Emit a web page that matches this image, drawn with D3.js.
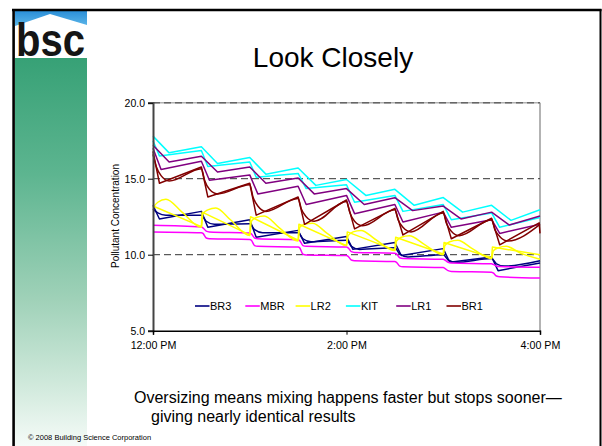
<!DOCTYPE html>
<html lang="en">
<head>
<meta charset="utf-8">
<title>Look Closely</title>
<script src="https://cdn.jsdelivr.net/npm/d3@7"></script>
<style>
  body { margin: 0; background: #fff; }
  svg text { font-family: "Liberation Sans", Arial, sans-serif; }
</style>
</head>
<body>
<script>

// series data: [minutes after 12:00 PM, concentration]
var br3a = [[0,13.25],[4,12.35],[30,12.85],[34,11.8],[60,12.3],[64,11.15],[90,11.6],[94,10.75],[120,11.2],[124,10.35],[150,10.8],[154,9.95],[180,10.4],[184,9.5],[210,9.85],[214,8.95],[240,9.45]];
var br3b = [[0,13.0],[3,12.75],[8,12.6],[30,12.6],[33,12.2],[38,12.0],[60,12.04],[63,11.65],[68,11.45],[90,11.45],[93,11.05],[98,10.85],[120,10.95],[123,10.55],[128,10.35],[150,10.45],[153,10.05],[158,9.85],[180,10.0],[183,9.65],[188,9.5],[210,9.75],[213,9.4],[218,9.25],[240,9.6]];

var mbra = [[0,11.93],[30,11.82],[31,11.77],[33,11.55],[35,11.5],[60,11.42],[61,11.37],[63,11.1],[65,11.05],[90,10.98],[91,10.93],[93,10.6],[95,10.55],[120,10.5],[121,10.45],[123,10.2],[125,10.15],[150,10.1],[151,10.05],[153,9.8],[155,9.75],[180,9.7],[181,9.65],[183,9.5],[185,9.45],[210,9.4],[211,9.36],[213,9.26],[215,9.22],[240,9.17]];
var mbrb = [[0,11.5],[30,11.45],[31,11.4],[33,11.1],[35,11.05],[60,11.0],[61,10.95],[63,10.6],[65,10.55],[90,10.5],[91,10.45],[93,10.03],[95,9.98],[120,9.94],[121,9.89],[123,9.65],[125,9.6],[150,9.55],[151,9.5],[153,9.25],[155,9.2],[180,9.15],[181,9.1],[183,8.95],[185,8.9],[210,8.85],[211,8.8],[213,8.6],[215,8.55],[240,8.47]];

var lr2a = [[0,13.1],[3,13.45],[8,13.65],[18,12.8],[30,11.8],[31,12.7],[34,12.95],[39,13.08],[48,12.3],[60,11.26],[61,12.2],[64,12.45],[69,12.55],[78,11.8],[90,10.9],[91,11.8],[94,12.0],[99,12.07],[108,11.4],[120,10.6],[121,11.25],[124,11.5],[129,11.6],[138,11.0],[150,10.27],[151,10.9],[154,11.15],[159,11.25],[168,10.7],[180,10.0],[181,10.6],[184,10.85],[189,10.95],[198,10.4],[210,9.75],[211,10.25],[214,10.45],[219,10.55],[228,10.1],[240,9.7]];
var lr2b = [[0,13.2],[30,11.85],[30.5,12.8],[60,11.3],[60.5,12.5],[90,10.95],[90.5,12.0],[120,10.6],[120.5,11.5],[150,10.3],[150.5,11.15],[180,10.05],[180.5,10.8],[210,9.8],[210.5,10.5],[240,10.0]];

var kita = [[0,17.8],[10,16.7],[30,17.1],[40,16.0],[60,16.4],[70,15.3],[90,15.7],[101,14.56],[120,14.95],[132,13.9],[150,14.3],[162,13.25],[180,13.76],[192,12.8],[210,13.25],[222,12.26],[240,12.96]];
var kitb = [[0,17.5],[4,16.5],[30,16.85],[34,15.8],[60,16.1],[64,15.1],[90,15.35],[95,14.35],[120,14.6],[125,13.45],[150,13.9],[155,12.85],[180,13.3],[185,12.3],[210,12.75],[215,11.8],[240,12.45]];

var lr1a = [[0,17.2],[10,16.1],[30,16.48],[40,15.44],[60,15.77],[70,14.7],[90,15.05],[100,14.0],[120,14.35],[131,13.3],[150,13.75],[161,12.9],[180,13.2],[191,12.35],[210,12.8],[221,11.95],[240,12.55]];
var lr1b = [[0,17.0],[5,15.6],[30,16.15],[35,14.9],[60,15.25],[65,14.0],[90,14.5],[95,13.3],[120,13.9],[125,12.7],[150,13.3],[155,12.15],[180,12.8],[185,11.8],[210,12.3],[215,11.4],[240,12.0]];

var br1a = [[0,16.8],[4,14.7],[30,15.77],[34,13.8],[60,14.7],[64,12.6],[90,13.8],[94,12.0],[120,13.6],[125,11.7],[150,13.05],[155,11.3],[180,12.85],[185,11.05],[210,12.4],[215,10.65],[239.5,12.1],[240,11.4]];
var br1b = [[0,16.6],[2,15.8],[5,15.2],[10,14.85],[30,15.66],[32,14.9],[35,14.3],[40,14.0],[60,14.6],[62,13.8],[65,13.2],[70,12.85],[90,13.7],[92,13.0],[95,12.5],[100,12.2],[120,13.5],[122,12.8],[125,12.2],[130,11.9],[150,12.95],[152,12.3],[155,11.8],[160,11.5],[180,12.75],[182,12.05],[185,11.55],[190,11.25],[210,12.3],[212,11.65],[215,11.2],[220,10.9],[240,12.0]];

var names = ["BR3", "MBR", "LR2", "KIT", "LR1", "BR1"];
var colors = ["#000080", "#ff00ff", "#ffff00", "#00ffff", "#800080", "#800000"];
var yTicks = [5, 10, 15, 20];
var xTicks = [0, 120, 240];

var series = [
  { name: "BR3", lines: [br3a, br3b], smooth: [false, true] },
  { name: "MBR", lines: [mbra, mbrb], smooth: [true, true] },
  { name: "LR2", lines: [lr2a, lr2b], smooth: [true, false] },
  { name: "KIT", lines: [kita, kitb], smooth: [false, false] },
  { name: "LR1", lines: [lr1a, lr1b], smooth: [false, false] },
  { name: "BR1", lines: [br1a, br1b], smooth: [false, true] }
];

var w = 602, h = 446;
var noon = new Date(2008, 0, 1, 12, 0);
function toDate(m) { return new Date(noon.getTime() + m * 60000); }

var svg = d3.select("body").append("svg")
  .attr("width", w)
  .attr("height", h);

var defs = svg.append("defs");
var g1 = defs.append("linearGradient").attr("id", "side")
  .attr("x1", 0).attr("y1", 0).attr("x2", 0).attr("y2", 1);
g1.append("stop").attr("offset", "0%").attr("stop-color", "#37a176");
g1.append("stop").attr("offset", "30%").attr("stop-color", "#5db590");
g1.append("stop").attr("offset", "62%").attr("stop-color", "#9fd1b8");
g1.append("stop").attr("offset", "85%").attr("stop-color", "#d2eadd");
g1.append("stop").attr("offset", "100%").attr("stop-color", "#f5fbf8");

var g2 = defs.append("linearGradient").attr("id", "sky")
  .attr("x1", 0).attr("y1", 0).attr("x2", 0).attr("y2", 1);
g2.append("stop").attr("offset", "0%").attr("stop-color", "#2b8fd8");
g2.append("stop").attr("offset", "100%").attr("stop-color", "#6cc2ee");

//sidebar and logo
svg.append("rect").attr("x", 15).attr("y", 58).attr("width", 72).attr("height", h - 58).attr("fill", "url(#side)");
svg.append("rect").attr("x", 15).attr("y", 11).attr("width", 72).attr("height", 20).attr("fill", "url(#sky)");
svg.append("polygon").attr("points", "15,26 50,14 87,25 87,58 15,58").attr("fill", "#fff");
svg.append("text").attr("x", 16).attr("y", 56)
  .attr("font-size", 46).attr("font-weight", "bold").attr("fill", "#151515")
  .attr("textLength", 69).attr("lengthAdjust", "spacingAndGlyphs")
  .text("bsc");

//slide frame
svg.append("line").attr("x1", 12).attr("x2", 601.5).attr("y1", 10).attr("y2", 10).attr("stroke", "#000").attr("stroke-width", 2.5);
svg.append("line").attr("x1", 13.6).attr("x2", 13.6).attr("y1", 9).attr("y2", h).attr("stroke", "#000").attr("stroke-width", 2.6);
svg.append("line").attr("x1", 600.5).attr("x2", 600.5).attr("y1", 9).attr("y2", h).attr("stroke", "#000").attr("stroke-width", 2);

//title
svg.append("text").attr("x", 333).attr("y", 67).attr("text-anchor", "middle")
  .attr("font-size", 28).attr("fill", "#000").text("Look Closely");

//scales
var x = d3.scaleTime().domain([toDate(0), toDate(240)]).range([153, 540]);
var y = d3.scaleLinear().domain([5, 20]).range([330.7, 102.7]);

//plot frame and gridlines
svg.append("line").attr("x1", 540).attr("x2", 540).attr("y1", y(20)).attr("y2", y(5))
  .attr("stroke", "#808080").attr("stroke-width", 1.2);
svg.append("line").attr("x1", 153).attr("x2", 540).attr("y1", y(20)).attr("y2", y(20))
  .attr("stroke", "#b0b0b0").attr("stroke-width", 1.5);
svg.selectAll(".grid").data([10, 15, 20]).enter().append("line")
  .attr("class", "grid")
  .attr("x1", 153).attr("x2", 540)
  .attr("y1", function(d) { return y(d); })
  .attr("y2", function(d) { return y(d); })
  .attr("stroke", function(d) { return d == 20 ? "#666" : "#333"; })
  .attr("stroke-width", function(d) { return d == 20 ? 1.5 : 1; })
  .attr("stroke-dasharray", "7,4");

//lines
var line = d3.line()
  .x(function(d) { return x(toDate(d[0])); })
  .y(function(d) { return y(d[1]); });

series.forEach(function(s, i) {
  s.lines.forEach(function(pts, j) {
    line.curve(s.smooth[j] ? d3.curveMonotoneX : d3.curveLinear);
    svg.append("path")
      .attr("d", line(pts))
      .attr("fill", "none")
      .attr("stroke", colors[i])
      .attr("stroke-width", 1.5)
      .attr("stroke-linejoin", "round");
  });
});

//axes
var yAxis = d3.axisLeft(y).tickValues(yTicks).tickFormat(d3.format(".1f")).tickSize(5).tickPadding(3);
var ya = svg.append("g").attr("transform", "translate(153,0)").call(yAxis);
ya.select(".domain").attr("stroke", "#444").attr("stroke-width", 2);
ya.selectAll(".tick line").attr("stroke", "#000");
ya.selectAll("text").attr("font-size", 10.5).attr("fill", "#000").style("font-family", "Liberation Sans, Arial, sans-serif");

var xAxis = d3.axisBottom(x).tickValues(xTicks.map(toDate)).tickFormat(d3.timeFormat("%-I:%M %p")).tickSize(4).tickPadding(7);
var xa = svg.append("g").attr("transform", "translate(0," + y(5) + ")").call(xAxis);
xa.select(".domain").attr("stroke", "#000").attr("stroke-width", 1.5);
xa.selectAll(".tick line").attr("stroke", "#000");
xa.selectAll("text").attr("font-size", 10.7).attr("fill", "#000").style("font-family", "Liberation Sans, Arial, sans-serif");

svg.append("text")
  .attr("transform", "translate(118.5,216) rotate(-90)")
  .attr("text-anchor", "middle")
  .attr("font-size", 10).attr("fill", "#000")
  .text("Pollutant Concentration");

//legend
var leg = svg.selectAll(".leg").data(names).enter().append("g")
  .attr("class", "leg")
  .attr("transform", function(d, i) { return "translate(" + (195 + i * 50.3) + ",306)"; });
leg.append("line").attr("x1", 0).attr("x2", 14.5).attr("y1", 0).attr("y2", 0)
  .attr("stroke", function(d, i) { return colors[i]; }).attr("stroke-width", 1.6);
leg.append("text").attr("x", 15).attr("y", 4).attr("font-size", 11).attr("fill", "#000")
  .text(function(d) { return d; });

//caption
svg.append("text").attr("x", 134).attr("y", 403).attr("font-size", 16).attr("fill", "#000")
  .text("Oversizing means mixing happens faster but stops sooner\u2014");
svg.append("text").attr("x", 151).attr("y", 421.5).attr("font-size", 16).attr("fill", "#000")
  .text("giving nearly identical results");
svg.append("text").attr("x", 28).attr("y", 440).attr("font-size", 7.5).attr("fill", "#000")
  .text("\u00a9 2008 Building Science Corporation");

</script>
</body>
</html>
